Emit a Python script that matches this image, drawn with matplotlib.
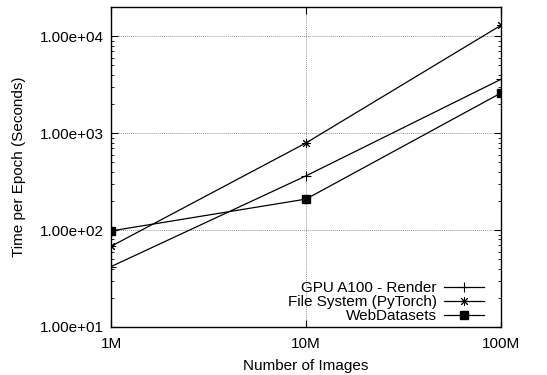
import matplotlib
matplotlib.use("Agg")
import matplotlib.pyplot as plt
from matplotlib.ticker import FixedLocator, FuncFormatter, LogLocator, NullLocator

plt.rcParams['font.family'] = ['Liberation Sans', 'DejaVu Sans']

# data
images = [1e6, 1e7, 1e8]
x_labels = ['1M', '10M', '100M']
gpu_render = [42, 363, 3600]
file_system = [68, 794, 13000]
webdatasets = [98, 209, 2600]

fig = plt.figure(figsize=(5.47, 3.75), dpi=100)
ax = fig.add_axes([0.203, 0.128, 0.713, 0.853])

ax.plot(images, gpu_render, color='black', lw=0.9, marker='+', ms=6.5,
        mew=0.8, label='GPU A100 - Render')
ax.plot(images, file_system, color='black', lw=0.9, marker=(8, 2, 0), ms=6.5,
        mew=0.7, label='File System (PyTorch)')
ax.plot(images, webdatasets, color='black', lw=0.9, marker='s', ms=6,
        label='WebDatasets')

ax.set_xscale('log')
ax.set_yscale('log')
ax.set_xlim(1e6, 1e8)
ax.set_ylim(10, 2e4)

ax.xaxis.set_major_locator(FixedLocator(images))
ax.xaxis.set_major_formatter(FuncFormatter(lambda v, p: x_labels[images.index(v)] if v in images else ''))
ax.xaxis.set_minor_locator(NullLocator())
ax.yaxis.set_major_locator(FixedLocator([10, 100, 1000, 10000]))
ax.yaxis.set_major_formatter(FuncFormatter(lambda v, p: '%.2e' % v))
ax.yaxis.set_minor_locator(LogLocator(base=10, subs=range(2, 10)))

ax.tick_params(which='both', direction='in', top=True, right=True, labelsize=11)
ax.tick_params(which='major', length=5, pad=7)
ax.tick_params(which='minor', length=2.5)
ax.tick_params(axis='y', pad=5)

ax.grid(True, which='major', color='#999999', linestyle=(0, (1, 1)), lw=0.7)

for s in ax.spines.values():
    s.set_linewidth(1.0)

ax.set_xlabel('Number of Images', fontsize=11, labelpad=6)
ax.set_ylabel('Time per Epoch (Seconds)', fontsize=11, labelpad=10)

ax.legend(loc='lower right', frameon=False, markerfirst=False, fontsize=11,
          handlelength=2.6, labelspacing=0.0, borderaxespad=0.6, handletextpad=0.5,
          bbox_to_anchor=(0.996, -0.035))

fig.savefig('out.png', dpi=100)
